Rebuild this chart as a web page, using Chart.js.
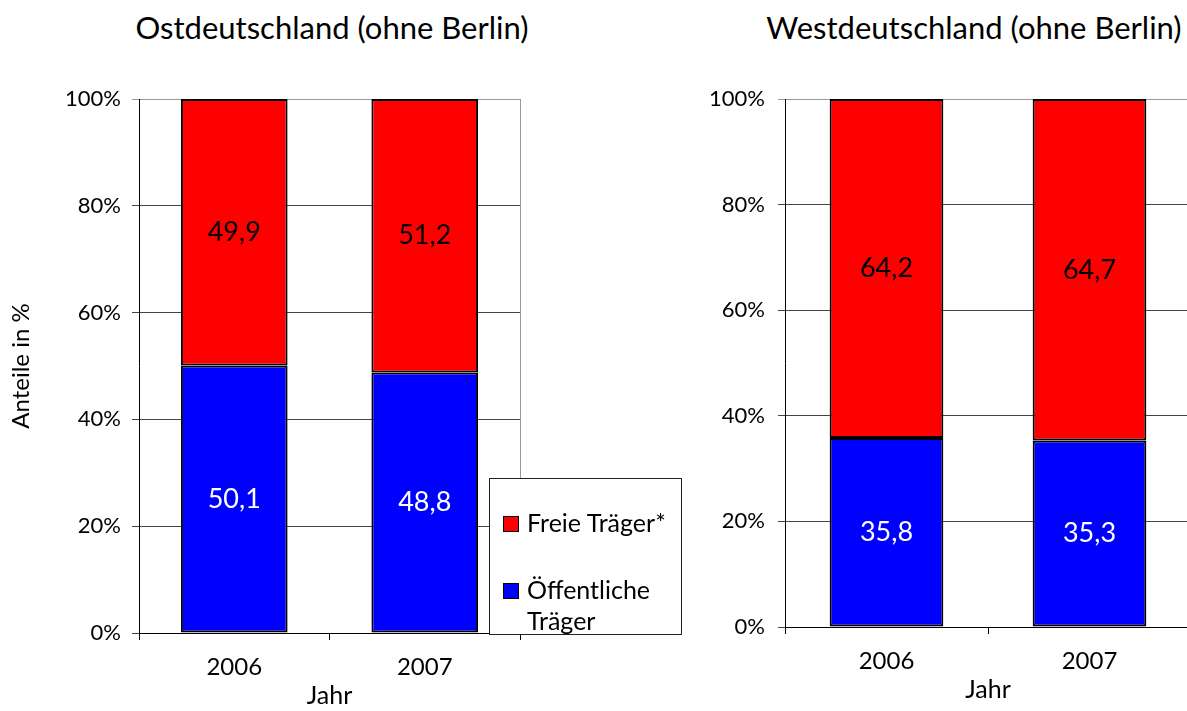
<!DOCTYPE html>
<html>
<head>
<meta charset="utf-8">
<script src="https://cdn.jsdelivr.net/npm/chart.js@4"></script>
<style>
  body { margin: 0; width: 1187px; height: 711px; overflow: hidden; background: #fff; font-family: Lato, sans-serif; }
  canvas { position: absolute; top: 0; }
  .title { position: absolute; top: 8px; font-size: 31px; color: #000; white-space: nowrap; transform: translateX(-50%); }
  .legend { position: absolute; left: 489px; top: 478px; width: 191px; height: 155px; border: 1px solid #222; background: #fff; font-size: 25px; }
  .legend .item { position: absolute; left: 13px; display: flex; align-items: flex-start; line-height: 31px; }
  .legend .sw { width: 14px; height: 14px; border: 1px solid #000; margin: 9px 8px 0 0; flex: none; }
</style>
</head>
<body>
<div class="title" style="left:332px">Ostdeutschland (ohne Berlin)</div>
<div class="title" style="left:974px">Westdeutschland (ohne Berlin)</div>
<canvas id="ost" width="690" height="711" style="left:0"></canvas>
<canvas id="west" width="520" height="711" style="left:690px"></canvas>
<div class="legend" id="legend"></div>
<script>
const years = ['2006', '2007'];
const seriesNames = ['Öffentliche Träger', 'Freie Träger*'];
const seriesColors = ['#0000ff', '#ff0000'];
const labelColors = ['#ffffff', '#000000'];
const ostOeffentlich = [50.1, 48.8];
const ostFrei = [49.9, 51.2];
const westOeffentlich = [35.8, 35.3];
const westFrei = [64.2, 64.7];
const yTicks = [0, 20, 40, 60, 80, 100];

const FONT = 'Lato, sans-serif';

const valueLabels = {
  id: 'valueLabels',
  afterDatasetsDraw(chart) {
    const ctx = chart.ctx;
    ctx.save();
    ctx.font = '27px ' + FONT;
    ctx.textAlign = 'center';
    ctx.textBaseline = 'middle';
    chart.data.datasets.forEach((ds, i) => {
      chart.getDatasetMeta(i).data.forEach((bar, j) => {
        ctx.fillStyle = labelColors[i];
        ctx.fillText(ds.data[j].toFixed(1).replace('.', ','), bar.x, (bar.y + bar.base) / 2);
      });
    });
    ctx.restore();
  }
};

const rightBorder = {
  id: 'rightBorder',
  beforeDatasetsDraw(chart) {
    const a = chart.chartArea, ctx = chart.ctx;
    ctx.save();
    ctx.strokeStyle = '#999';
    ctx.lineWidth = 1;
    ctx.beginPath();
    ctx.moveTo(Math.round(a.right) + 0.5, a.top);
    ctx.lineTo(Math.round(a.right) + 0.5, a.bottom);
    ctx.stroke();
    ctx.restore();
  }
};

function makeChart(id, blue, red, opts) {
  return new Chart(document.getElementById(id), {
    type: 'bar',
    data: {
      labels: years,
      datasets: [
        { label: seriesNames[0], data: blue, backgroundColor: seriesColors[0], borderColor: '#000', borderWidth: 2, borderSkipped: false },
        { label: seriesNames[1], data: red, backgroundColor: seriesColors[1], borderColor: '#000', borderWidth: 2, borderSkipped: false }
      ]
    },
    options: {
      responsive: false,
      animation: false,
      layout: { padding: { top: 99, left: 0, right: opts.padRight, bottom: 0 } },
      datasets: { bar: { categoryPercentage: 1, barPercentage: 0.56 } },
      plugins: { legend: { display: false }, tooltip: { enabled: false } },
      scales: {
        x: {
          stacked: true,
          afterFit: s => { s.height = opts.xHeight; },
          grid: { offset: true, drawOnChartArea: false, tickLength: 7, color: '#000' },
          border: { color: '#000' },
          ticks: { color: '#000', font: { family: FONT, size: 24 }, padding: opts.xPad },
          title: { display: true, text: 'Jahr', color: '#000', font: { family: FONT, size: 25 }, padding: { top: 0, bottom: opts.jahrPad } }
        },
        y: {
          stacked: true,
          min: 0, max: 100,
          afterFit: s => { s.width = opts.yWidth; },
          afterBuildTicks: s => { s.ticks = yTicks.map(v => ({ value: v })); },
          grid: { tickLength: 7, color: c => c.tick && c.tick.value === 100 ? '#999' : '#444' },
          border: { color: '#000' },
          ticks: { color: '#000', font: { family: FONT, size: 22 }, padding: opts.yPad, callback: v => v + '%' },
          title: { display: opts.yTitle, text: 'Anteile in %', color: '#000', font: { family: FONT, size: 24 }, padding: { top: 7 } }
        }
      }
    },
    plugins: [rightBorder, valueLabels]
  });
}

makeChart('ost', ostOeffentlich, ostFrei, { padRight: 170, xHeight: 78, yWidth: 139, xPad: 13, yPad: 11, jahrPad: 0, yTitle: true });
makeChart('west', westOeffentlich, westFrei, { padRight: 19, xHeight: 84, yWidth: 95, xPad: 13, yPad: 13, jahrPad: 6, yTitle: false });

// legend, top entry first as in the original
const legend = document.getElementById('legend');
[[1, 28], [0, 95]].forEach(([i, top]) => {
  const item = document.createElement('div');
  item.className = 'item';
  item.style.top = top + 'px';
  item.innerHTML = '<div class="sw" style="background:' + seriesColors[i] + '"></div><div>' +
    (i === 0 ? 'Öffentliche<br>Träger' : seriesNames[i]) + '</div>';
  legend.appendChild(item);
});
</script>
</body>
</html>
